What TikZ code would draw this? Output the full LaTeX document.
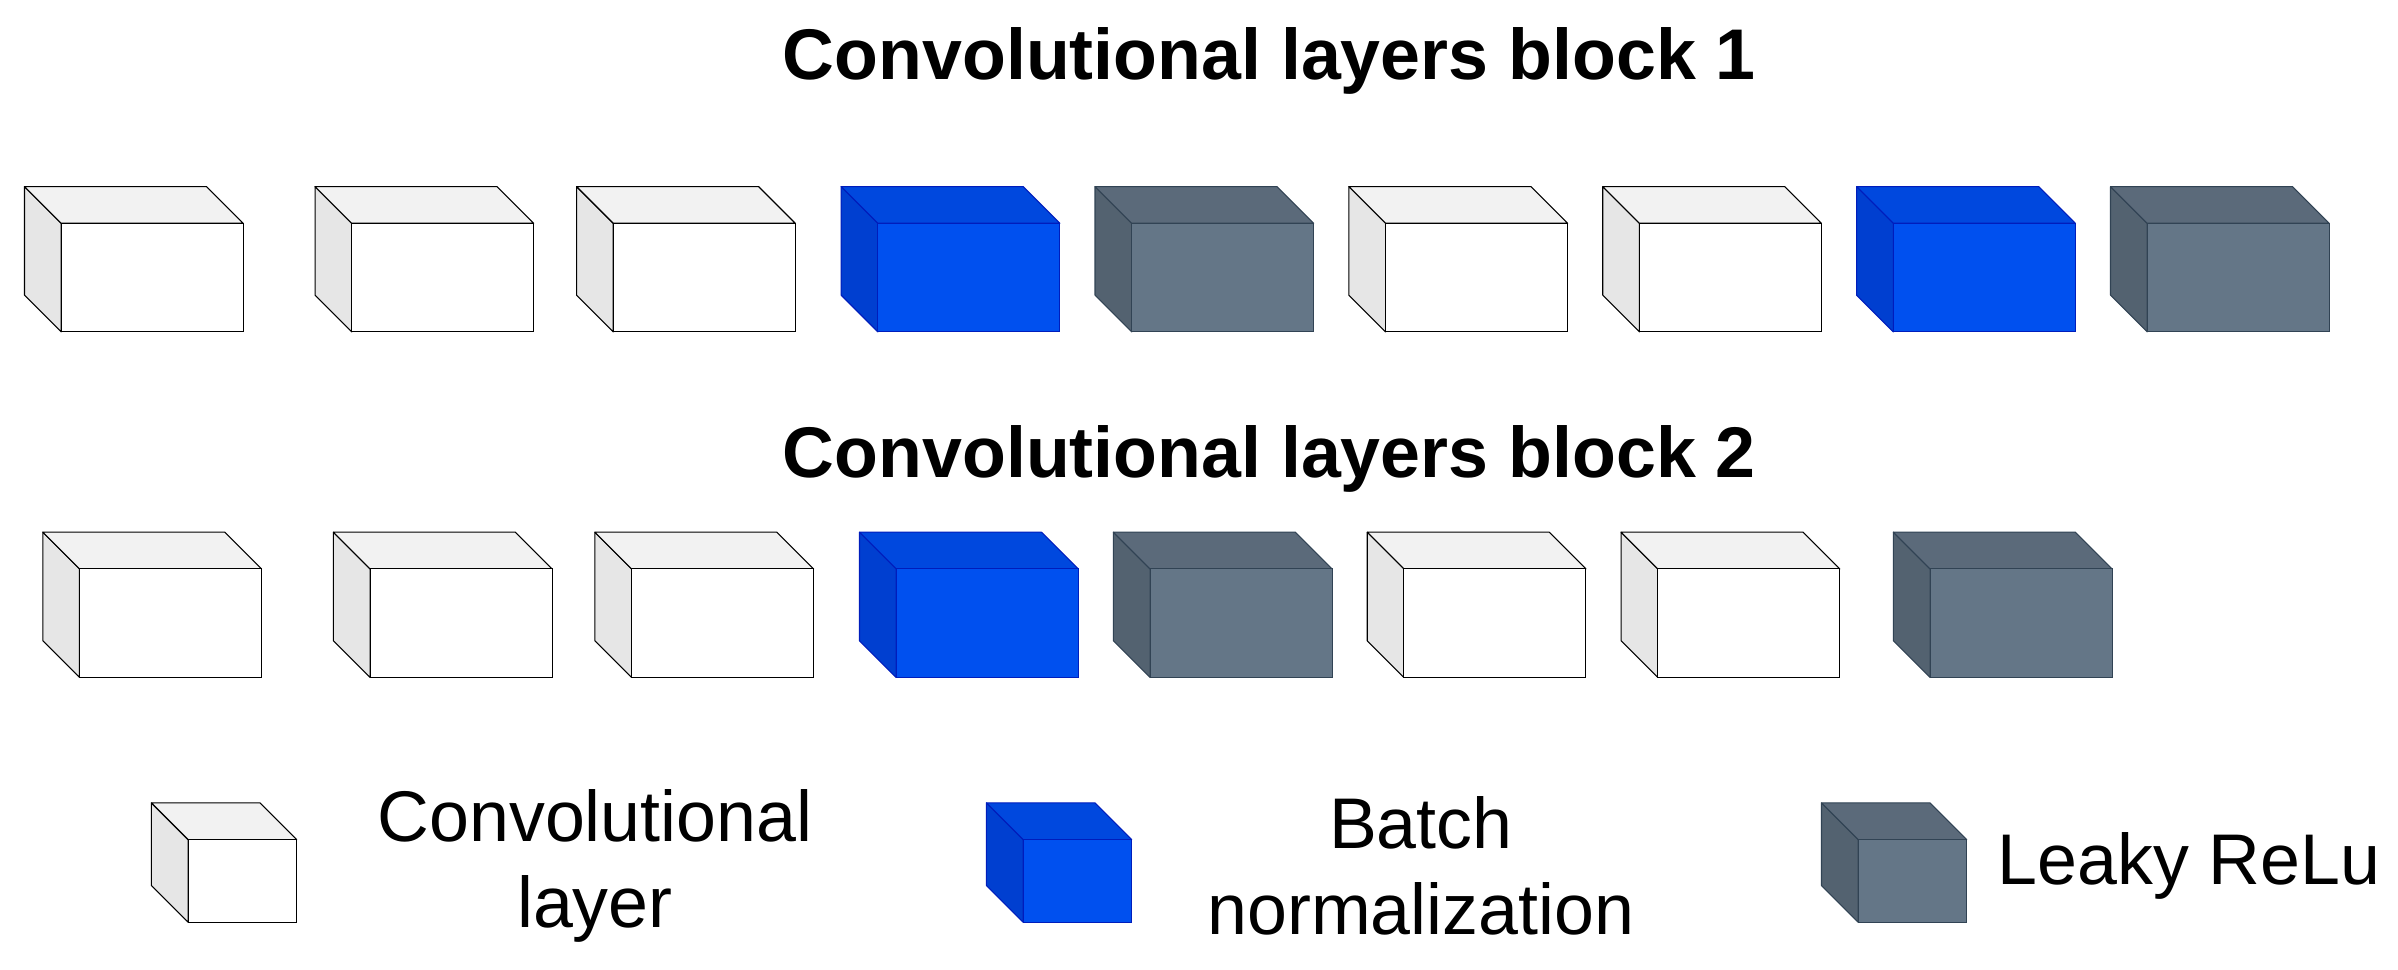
\documentclass[tikz,border=0pt]{standalone}
\usepackage{fontspec}
\setmainfont{Liberation Sans}
\definecolor{convfront}{HTML}{FFFFFF}
\definecolor{convside}{HTML}{E6E6E6}
\definecolor{convtop}{HTML}{F2F2F2}
\definecolor{bnfront}{HTML}{0050EF}
\definecolor{bnside}{HTML}{003FD0}
\definecolor{bntop}{HTML}{0048DE}
\definecolor{bnline}{HTML}{001DBC}
\definecolor{lrfront}{HTML}{647687}
\definecolor{lrside}{HTML}{536270}
\definecolor{lrtop}{HTML}{5B6A7A}
\definecolor{lrline}{HTML}{314354}
% cube: #1 x, #2 y (front top-left), #3 width, #4 height, #5 kind
\newcommand\layercube[5]{%
  \draw[#5line,fill=#5side,line join=round] (#1,#2) -- ++(-24,-24) -- ++(0,#4) -- ++(24,24) -- cycle;
  \draw[#5line,fill=#5top,line join=round] (#1,#2) -- ++(-24,-24) -- ++(#3,0) -- ++(24,24) -- cycle;
  \draw[#5line,fill=#5front] (#1,#2) rectangle ++(#3,#4);
}
\colorlet{convline}{black}
\begin{document}
\begin{tikzpicture}[x=0.02cm,y=-0.02cm,
  title/.style={font=\fontsize{26.7}{30}\selectfont\bfseries},
  legend/.style={font=\fontsize{26.7}{32}\selectfont, align=center}]
\useasboundingbox (0,0) rectangle (1568,634);
%Titles
\node[title] (title1) at (830,40) {Convolutional layers block 1};
\node[title] (title2) at (830,300) {Convolutional layers block 2};
%Block 1
\foreach \x/\k in {40/conv,230/conv,401/conv,574/bn,740/lr,906/conv,1072/conv,1238/bn,1404/lr}
  {\layercube{\x}{146}{119}{71}{\k}}
%Block 2
\foreach \x/\k in {52/conv,242/conv,413/conv,586/bn,752/lr,918/conv,1084/conv,1262/lr}
  {\layercube{\x}{372}{119}{71}{\k}}
%Legend
\layercube{123}{549}{71}{54}{conv}
\layercube{669}{549}{71}{54}{bn}
\layercube{1215}{549}{71}{54}{lr}
\node[legend] (convlabel) at (389,566) {Convolutional\\layer};
\node[legend] (bnlabel) at (929,566) {Batch\\normalization};
\node[legend, anchor=west] (lrlabel) at (1300,566) {Leaky ReLu};
\end{tikzpicture}
\end{document}
